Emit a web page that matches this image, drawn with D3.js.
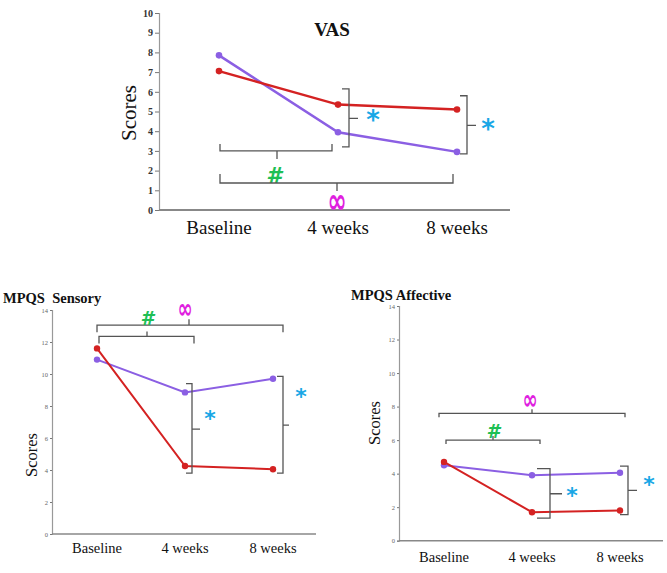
<!DOCTYPE html>
<html><head><meta charset="utf-8">
<script src="https://cdn.jsdelivr.net/npm/d3@7"></script>
<style>
html,body{margin:0;padding:0;background:#fff;}
svg{display:block;}
</style></head>
<body>
<svg id="c" width="667" height="573"></svg>
<script>
// ---------- data ----------
const categories = ["Baseline", "4 weeks", "8 weeks"];
const vasRed = [7.05, 5.35, 5.1];
const vasPurple = [7.85, 3.95, 2.95];
const sensoryRed = [11.6, 4.25, 4.05];
const sensoryPurple = [10.9, 8.85, 9.7];
const affectiveRed = [4.7, 1.7, 1.8];
const affectivePurple = [4.5, 3.9, 4.05];
const vasTicks = [0,1,2,3,4,5,6,7,8,9,10];
const mpqsTicks = [0,2,4,6,8,10,12,14];
const titles = ["VAS", "MPQS  Sensory", "MPQS Affective"];

const RED = "#d42222", PURPLE = "#8b5fe3", CYAN = "#19a7e6", GREEN = "#1fbf55", MAG = "#e01fe0", BR = "#555";
const svg = d3.select("#c");
const serif = "'Liberation Serif','Times New Roman',serif";
const sans = "'DejaVu Sans',sans-serif";

function symbol(g, sym, cx, cy, fs){
  if(sym==="*"){
    g.append("text").attr("x",cx).attr("y",cy+0.55*fs).attr("text-anchor","middle")
      .attr("font-family",sans).attr("font-weight","bold").attr("font-size",fs).attr("fill",CYAN).text("*");
  } else if(sym==="#"){
    g.append("text").attr("x",cx).attr("y",cy+0.36*fs).attr("text-anchor","middle")
      .attr("font-family",sans).attr("font-weight","bold").attr("font-style","italic")
      .attr("font-size",fs).attr("fill",GREEN).text("#");
  } else {
    g.append("text").attr("transform",`translate(${cx},${cy}) scale(1,1.55)`)
      .attr("y",0.3*fs).attr("text-anchor","middle")
      .attr("font-family",sans).attr("font-weight","bold").attr("font-size",fs).attr("fill",MAG).text("∞");
  }
}

function panel(o){
  const g = svg.append("g");
  const x = d3.scalePoint().domain(categories).range(o.xr);
  const y = d3.scaleLinear().domain(o.yd).range(o.yr);
  // y axis
  const ya = d3.axisLeft(y).tickValues(o.ticks).tickSize(o.tickSize).tickPadding(2);
  const yg = g.append("g").attr("transform",`translate(${o.axisX},0)`).call(ya);
  yg.select(".domain").attr("stroke","#999").attr("stroke-width",1.2);
  yg.selectAll(".tick line").attr("stroke","#777");
  yg.selectAll(".tick text").attr("font-family",serif).attr("font-size",o.tickFont)
    .attr("font-weight",o.tickBold?"bold":"normal").attr("fill",o.tickColor);
  // x axis line
  g.append("line").attr("x1",o.axisX).attr("x2",o.axisEnd).attr("y1",y(0)).attr("y2",y(0))
    .attr("stroke","#888").attr("stroke-width",o.xw);
  // x labels
  g.selectAll(".xl").data(categories).enter().append("text")
    .attr("x",d=>x(d)).attr("y",o.xlY).attr("text-anchor","middle")
    .attr("font-family",serif).attr("font-size",o.xlFont).attr("fill","#111").text(d=>d);
  // y label
  g.append("text").attr("transform",`translate(${o.ylX},${o.ylY}) rotate(-90)`)
    .attr("text-anchor","middle").attr("font-family",serif).attr("font-size",o.ylFont)
    .attr("fill","#111").text("Scores");
  // title
  g.append("text").attr("x",o.tX).attr("y",o.tY).attr("text-anchor",o.tAnchor)
    .attr("font-family",serif).attr("font-weight","bold").attr("font-size",o.tFont)
    .attr("fill","#111").style("white-space","pre").text(o.title);
  // lines
  const line = d3.line().x((d,i)=>x(categories[i])).y(d=>y(d));
  [[o.purple,PURPLE],[o.red,RED]].forEach(([vals,col])=>{
    g.append("path").datum(vals).attr("d",line).attr("fill","none").attr("stroke",col).attr("stroke-width",o.lw);
    g.selectAll(null).data(vals).enter().append("circle")
      .attr("cx",(d,i)=>x(categories[i])).attr("cy",d=>y(d)).attr("r",o.r).attr("fill",col);
  });
  // vertical braces (right-facing)
  o.vbr.forEach(b=>{
    const bx = x(b.cat)+b.dx, y1=y(b.y1), y2=y(b.y2), ym=y(b.ym);
    g.append("path").attr("d",`M${bx-b.hook},${y1}L${bx},${y1}L${bx},${y2}L${bx-b.hook},${y2}M${bx},${ym}L${bx+b.tip},${ym}`)
      .attr("fill","none").attr("stroke",BR).attr("stroke-width",1.3);
    symbol(g,"*",bx+b.cx,ym+b.cy,o.starFont);
  });
  // horizontal braces
  o.hbr.forEach(b=>{
    const x1=x(b.c1)+b.d1, x2=x(b.c2)+b.d2, ly=y(b.y), tx = b.tx;
    g.append("path").attr("d",`M${x1},${ly+b.hook}L${x1},${ly}L${x2},${ly}L${x2},${ly+b.hook}M${tx},${ly}L${tx},${ly+b.tip}`)
      .attr("fill","none").attr("stroke",BR).attr("stroke-width",1.3);
    symbol(g,b.sym,tx+b.cx,ly+b.cy,b.fs);
  });
}

// VAS (top)
panel({
  title:titles[0], tX:332, tY:36, tAnchor:"middle", tFont:19,
  xr:[219,457], yd:[0,10], yr:[210,13], axisX:159, axisEnd:510, xw:2,
  ticks:vasTicks, tickSize:4, tickFont:10, tickBold:true, tickColor:"#333",
  xlY:234, xlFont:19, ylX:136, ylY:113, ylFont:21,
  red:vasRed, purple:vasPurple, lw:2.5, r:3.3, starFont:26,
  vbr:[
    {cat:"4 weeks", dx:11, y1:6.15, y2:3.2, ym:4.65, hook:7, tip:9, cx:24, cy:-3.4},
    {cat:"8 weeks", dx:10, y1:5.8, y2:2.85, ym:4.3, hook:7, tip:9, cx:21, cy:-2}
  ],
  hbr:[
    {c1:"Baseline", d1:1, c2:"4 weeks", d2:-6, y:3.0, hook:-7, tip:8, tx:277, sym:"#", cx:-3, cy:24, fs:22},
    {c1:"Baseline", d1:1, c2:"8 weeks", d2:-4, y:1.37, hook:-9, tip:8, tx:337, sym:"∞", cx:0, cy:19, fs:23}
  ]
});

// MPQS Sensory (bottom left)
panel({
  title:titles[1], tX:3, tY:303, tAnchor:"start", tFont:14.5,
  xr:[97,273], yd:[0,14], yr:[534,310], axisX:52, axisEnd:316, xw:1.5,
  ticks:mpqsTicks, tickSize:2, tickFont:6.5, tickBold:false, tickColor:"#666",
  xlY:553, xlFont:14.5, ylX:37, ylY:455, ylFont:16.5,
  red:sensoryRed, purple:sensoryPurple, lw:2, r:3.2, starFont:22,
  vbr:[
    {cat:"4 weeks", dx:7, y1:9.4, y2:3.8, ym:6.55, hook:6, tip:8, cx:18, cy:-15},
    {cat:"8 weeks", dx:10, y1:9.85, y2:3.8, ym:6.8, hook:6, tip:6, cx:18, cy:-33}
  ],
  hbr:[
    {c1:"Baseline", d1:0, c2:"8 weeks", d2:10, y:13.05, hook:7, tip:-6, tx:189, sym:"∞", cx:-4, cy:-16, fs:18},
    {c1:"Baseline", d1:2, c2:"4 weeks", d2:9, y:12.35, hook:7, tip:-5, tx:147, sym:"#", cx:0, cy:-18, fs:19}
  ]
});

// MPQS Affective (bottom right)
panel({
  title:titles[2], tX:351, tY:300, tAnchor:"start", tFont:14.5,
  xr:[444,620], yd:[0,14], yr:[540.7,306], axisX:399, axisEnd:663, xw:1.5,
  ticks:mpqsTicks, tickSize:2, tickFont:6.5, tickBold:false, tickColor:"#666",
  xlY:562, xlFont:14.5, ylX:380, ylY:423, ylFont:16.5,
  red:affectiveRed, purple:affectivePurple, lw:2, r:3.2, starFont:22,
  vbr:[
    {cat:"4 weeks", dx:18, y1:4.3, y2:1.35, ym:2.8, hook:13, tip:12, cx:22, cy:-3},
    {cat:"8 weeks", dx:8, y1:4.45, y2:1.55, ym:3.0, hook:8, tip:9, cx:21, cy:-11}
  ],
  hbr:[
    {c1:"Baseline", d1:-5, c2:"8 weeks", d2:5, y:7.6, hook:4, tip:-4, tx:532, sym:"∞", cx:-2, cy:-13, fs:18},
    {c1:"Baseline", d1:2, c2:"4 weeks", d2:8, y:6.0, hook:4, tip:-4, tx:493, sym:"#", cx:0, cy:-9, fs:19}
  ]
});
</script>
</body></html>
